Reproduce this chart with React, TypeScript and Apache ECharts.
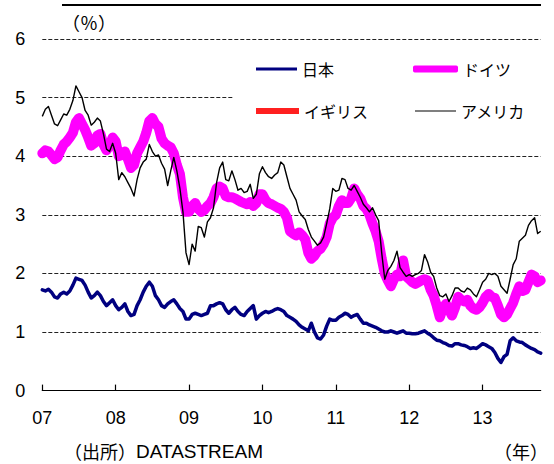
import React, { useEffect, useRef } from 'react';
import * as echarts from 'echarts';

const START_YEAR = 2007;
const STEPS_PER_YEAR = 24; // semi-monthly observations
const yearTicks = [2007, 2008, 2009, 2010, 2011, 2012, 2013];
const seriesNames = ['日本', 'ドイツ', 'イギリス', 'アメリカ'];

const japan = [
  1.72, 1.70, 1.73, 1.68, 1.60, 1.58, 1.65, 1.68, 1.65, 1.70, 1.80, 1.92, 1.90, 1.88, 1.80, 1.68, 1.58, 1.62, 1.68, 1.62, 1.52, 1.45, 1.50, 1.55,
  1.45, 1.38, 1.42, 1.48, 1.35, 1.28, 1.30, 1.45, 1.55, 1.68, 1.78, 1.85, 1.78, 1.62, 1.55, 1.45, 1.42, 1.48, 1.52, 1.55, 1.48, 1.40, 1.35, 1.22,
  1.22, 1.30, 1.32, 1.30, 1.28, 1.30, 1.32, 1.45, 1.45, 1.48, 1.50, 1.48, 1.38, 1.32, 1.38, 1.42, 1.35, 1.30, 1.28, 1.35, 1.40, 1.45, 1.22, 1.28,
  1.32, 1.35, 1.33, 1.35, 1.38, 1.40, 1.38, 1.35, 1.28, 1.25, 1.22, 1.18, 1.12, 1.08, 1.05, 1.02, 1.15, 1.00, 0.90, 0.88, 0.95, 1.10, 1.22, 1.20,
  1.20, 1.25, 1.28, 1.32, 1.30, 1.25, 1.28, 1.30, 1.22, 1.15, 1.15, 1.12, 1.10, 1.08, 1.05, 1.02, 1.00, 1.00, 1.02, 1.00, 0.98, 1.00, 1.02, 0.98,
  0.98, 0.97, 0.97, 0.98, 1.00, 1.02, 0.98, 0.95, 0.90, 0.86, 0.85, 0.82, 0.80, 0.77, 0.76, 0.80, 0.80, 0.78, 0.77, 0.75, 0.72, 0.73, 0.72, 0.76,
  0.80, 0.78, 0.75, 0.72, 0.65, 0.55, 0.48, 0.58, 0.62, 0.85, 0.90, 0.85, 0.83, 0.82, 0.78, 0.75, 0.72, 0.70, 0.66, 0.64,
];

const germany = [
  4.05, 4.10, 4.08, 4.02, 3.95, 3.98, 4.10, 4.20, 4.25, 4.32, 4.40, 4.58, 4.65, 4.55, 4.45, 4.32, 4.18, 4.22, 4.35, 4.38, 4.20, 4.10, 4.18, 4.32,
  4.25, 4.00, 4.02, 4.08, 3.95, 3.80, 3.85, 4.05, 4.15, 4.25, 4.40, 4.60, 4.65, 4.55, 4.50, 4.30, 4.22, 4.18, 4.15, 4.05, 3.85, 3.70, 3.30, 3.05,
  3.05, 3.15, 3.20, 3.10, 3.05, 3.08, 3.15, 3.20, 3.30, 3.45, 3.48, 3.45, 3.32, 3.30, 3.30, 3.28, 3.25, 3.22, 3.20, 3.18, 3.22, 3.15, 3.20, 3.35,
  3.35, 3.25, 3.20, 3.18, 3.15, 3.12, 3.10, 3.05, 2.95, 2.72, 2.68, 2.65, 2.70, 2.65, 2.58, 2.35, 2.25, 2.30, 2.38, 2.42, 2.50, 2.62, 2.85, 2.95,
  3.00, 3.15, 3.25, 3.20, 3.20, 3.28, 3.45, 3.35, 3.28, 3.15, 3.10, 3.00, 2.85, 2.72, 2.55, 2.25, 2.00, 1.88, 1.78, 1.90, 1.98, 1.95, 2.22, 1.95,
  1.90, 1.85, 1.82, 1.85, 1.88, 1.90, 1.88, 1.72, 1.62, 1.45, 1.25, 1.40, 1.48, 1.38, 1.28, 1.42, 1.60, 1.55, 1.52, 1.55, 1.45, 1.40, 1.38, 1.42,
  1.50, 1.60, 1.65, 1.60, 1.58, 1.45, 1.30, 1.25, 1.30, 1.40, 1.50, 1.65, 1.78, 1.70, 1.72, 1.85, 1.98, 1.95, 1.85, 1.88,
];

const uk: number[] = [];

const usa = [
  4.68, 4.80, 4.85, 4.70, 4.55, 4.52, 4.62, 4.72, 4.70, 4.80, 4.95, 5.20, 5.10, 5.00, 4.78, 4.70, 4.53, 4.58, 4.65, 4.60, 4.38, 4.12, 4.08, 4.22,
  4.05, 3.60, 3.72, 3.65, 3.55, 3.45, 3.32, 3.60, 3.80, 3.90, 3.95, 4.20, 4.08, 4.00, 4.02, 3.88, 3.78, 3.50, 3.75, 3.98, 3.75, 3.45, 3.05, 2.35,
  2.15, 2.50, 2.38, 2.80, 2.78, 2.62, 2.88, 2.95, 3.12, 3.55, 3.80, 3.90, 3.60, 3.58, 3.75, 3.60, 3.42, 3.45, 3.38, 3.40, 3.52, 3.28, 3.35, 3.70,
  3.82, 3.72, 3.65, 3.62, 3.68, 3.72, 3.90, 3.85, 3.65, 3.45, 3.35, 3.25, 3.05, 2.98, 2.92, 2.75, 2.62, 2.55, 2.48, 2.52, 2.62, 2.85, 3.10, 3.45,
  3.40, 3.42, 3.62, 3.60, 3.45, 3.42, 3.50, 3.40, 3.30, 3.18, 3.12, 3.05, 3.12, 3.00, 2.90, 2.35, 1.90, 2.05, 2.12, 2.22, 2.38, 2.10, 2.02, 1.95,
  1.98, 1.95, 1.98, 2.00, 2.05, 2.32, 2.20, 2.02, 1.95, 1.75, 1.62, 1.60, 1.65, 1.52, 1.62, 1.75, 1.75, 1.70, 1.68, 1.75, 1.72, 1.65, 1.60, 1.72,
  1.85, 1.90, 2.00, 1.98, 2.00, 1.95, 1.78, 1.72, 1.66, 1.90, 2.15, 2.25, 2.55, 2.60, 2.65, 2.82, 2.90, 2.95, 2.68, 2.72,
];

const toPoints = (vals: number[]) =>
  vals.map((v, i) => [START_YEAR + i / STEPS_PER_YEAR, v]);

const X_MAX = START_YEAR + (usa.length - 1) / STEPS_PER_YEAR;

const JP_FONT = '"Noto Sans CJK JP", "Noto Sans", sans-serif';
const NUM_FONT = '"Liberation Sans", Arial, sans-serif';

export default function App() {
  const ref = useRef<HTMLDivElement>(null);

  useEffect(() => {
    document.body.style.margin = '0';
    if (!ref.current) return;
    const chart = echarts.init(ref.current, undefined, { renderer: 'svg' });

    const legendBase = {
      orient: 'horizontal',
      padding: 0,
      selectedMode: false,
      textStyle: { fontFamily: JP_FONT, fontSize: 16, color: '#000' },
      itemStyle: { borderWidth: 0 },
    };

    chart.setOption({
      animation: false,
      backgroundColor: '#fff',
      grid: { left: 42.3, right: 13.3, top: 39, bottom: 73.4, containLabel: false },
      xAxis: {
        type: 'value',
        min: START_YEAR,
        max: X_MAX,
        axisLine: { show: true, lineStyle: { color: '#000', width: 1.2 } },
        axisTick: {
          show: true,
          inside: true,
          length: 6,
          customValues: yearTicks,
          lineStyle: { color: '#000', width: 1.2 },
        },
        axisLabel: {
          customValues: yearTicks,
          formatter: (v: number) => String(Math.round(v)).slice(2),
          fontFamily: NUM_FONT,
          fontSize: 18,
          color: '#000',
          margin: 18,
        },
        splitLine: { show: false },
      },
      yAxis: {
        type: 'value',
        min: 0,
        max: 6,
        interval: 1,
        axisLine: { show: false },
        axisTick: { show: false },
        axisLabel: {
          fontFamily: NUM_FONT,
          fontSize: 18,
          color: '#000',
          margin: 17,
        },
        splitLine: {
          show: true,
          lineStyle: { color: '#222', width: 1, type: [4, 2] },
        },
      },
      legend: [
        { ...legendBase, data: [{ name: seriesNames[0], itemStyle: { color: '#000080' } }], left: 256, top: 61, icon: 'rect', itemWidth: 41, itemHeight: 3 },
        { ...legendBase, data: [{ name: seriesNames[1], itemStyle: { color: '#ff00ff' } }], left: 413, top: 61, icon: 'roundRect', itemWidth: 45, itemHeight: 7 },
        { ...legendBase, data: [{ name: seriesNames[2], itemStyle: { color: '#ff2020' } }], left: 256, top: 103, icon: 'rect', itemWidth: 43, itemHeight: 6 },
        { ...legendBase, data: [{ name: seriesNames[3], itemStyle: { color: '#000' } }], left: 415, top: 103, icon: 'rect', itemWidth: 41, itemHeight: 1 },
      ],
      series: [
        {
          name: seriesNames[0],
          type: 'line',
          data: toPoints(japan),
          showSymbol: false,
          symbol: 'none',
          color: '#000080',
          lineStyle: { color: '#000080', width: 3.5, join: 'round', cap: 'round' },
          z: 2,
        },
        {
          name: seriesNames[1],
          type: 'line',
          data: toPoints(germany),
          showSymbol: false,
          symbol: 'none',
          color: '#ff00ff',
          lineStyle: { color: '#ff00ff', width: 10, join: 'round', cap: 'round' },
          z: 2,
        },
        {
          name: seriesNames[2],
          type: 'line',
          data: toPoints(uk),
          showSymbol: false,
          symbol: 'none',
          color: '#ff2020',
          lineStyle: { color: '#ff2020', width: 6 },
          z: 2,
        },
        {
          name: seriesNames[3],
          type: 'line',
          data: toPoints(usa),
          showSymbol: false,
          symbol: 'none',
          color: '#000',
          lineStyle: { color: '#000', width: 1.4, join: 'round' },
          z: 3,
        },
      ],
      graphic: [
        {
          type: 'rect',
          z: 10,
          shape: { x: 233, y: 92, width: 312, height: 10 },
          style: { fill: '#fff' },
        },
        {
          type: 'line',
          z: 10,
          shape: { x1: 62, y1: 5, x2: 541, y2: 5 },
          style: { stroke: '#000', lineWidth: 2 },
        },
        {
          type: 'text',
          z: 10,
          x: 62,
          y: 22,
          style: {
            text: '（％）',
            font: `18px ${JP_FONT}`,
            fill: '#000',
            verticalAlign: 'middle',
            align: 'left',
          },
        },
        {
          type: 'text',
          z: 10,
          x: 64,
          y: 451,
          style: {
            text: '{a|（出所）}{b|DATASTREAM}',
            verticalAlign: 'middle',
            align: 'left',
            fill: '#000',
            rich: {
              a: { fontFamily: JP_FONT, fontSize: 18, fill: '#000' },
              b: { fontFamily: NUM_FONT, fontSize: 19, fill: '#000' },
            },
          },
        },
        {
          type: 'text',
          z: 10,
          x: 521,
          y: 451,
          style: {
            text: '（年）',
            font: `18px ${JP_FONT}`,
            fill: '#000',
            verticalAlign: 'middle',
            align: 'center',
          },
        },
      ],
    });

    return () => {
      chart.dispose();
    };
  }, []);

  return (
    <div
      ref={ref}
      style={{ position: 'absolute', left: 0, top: 0, width: 554, height: 464 }}
    />
  );
}
